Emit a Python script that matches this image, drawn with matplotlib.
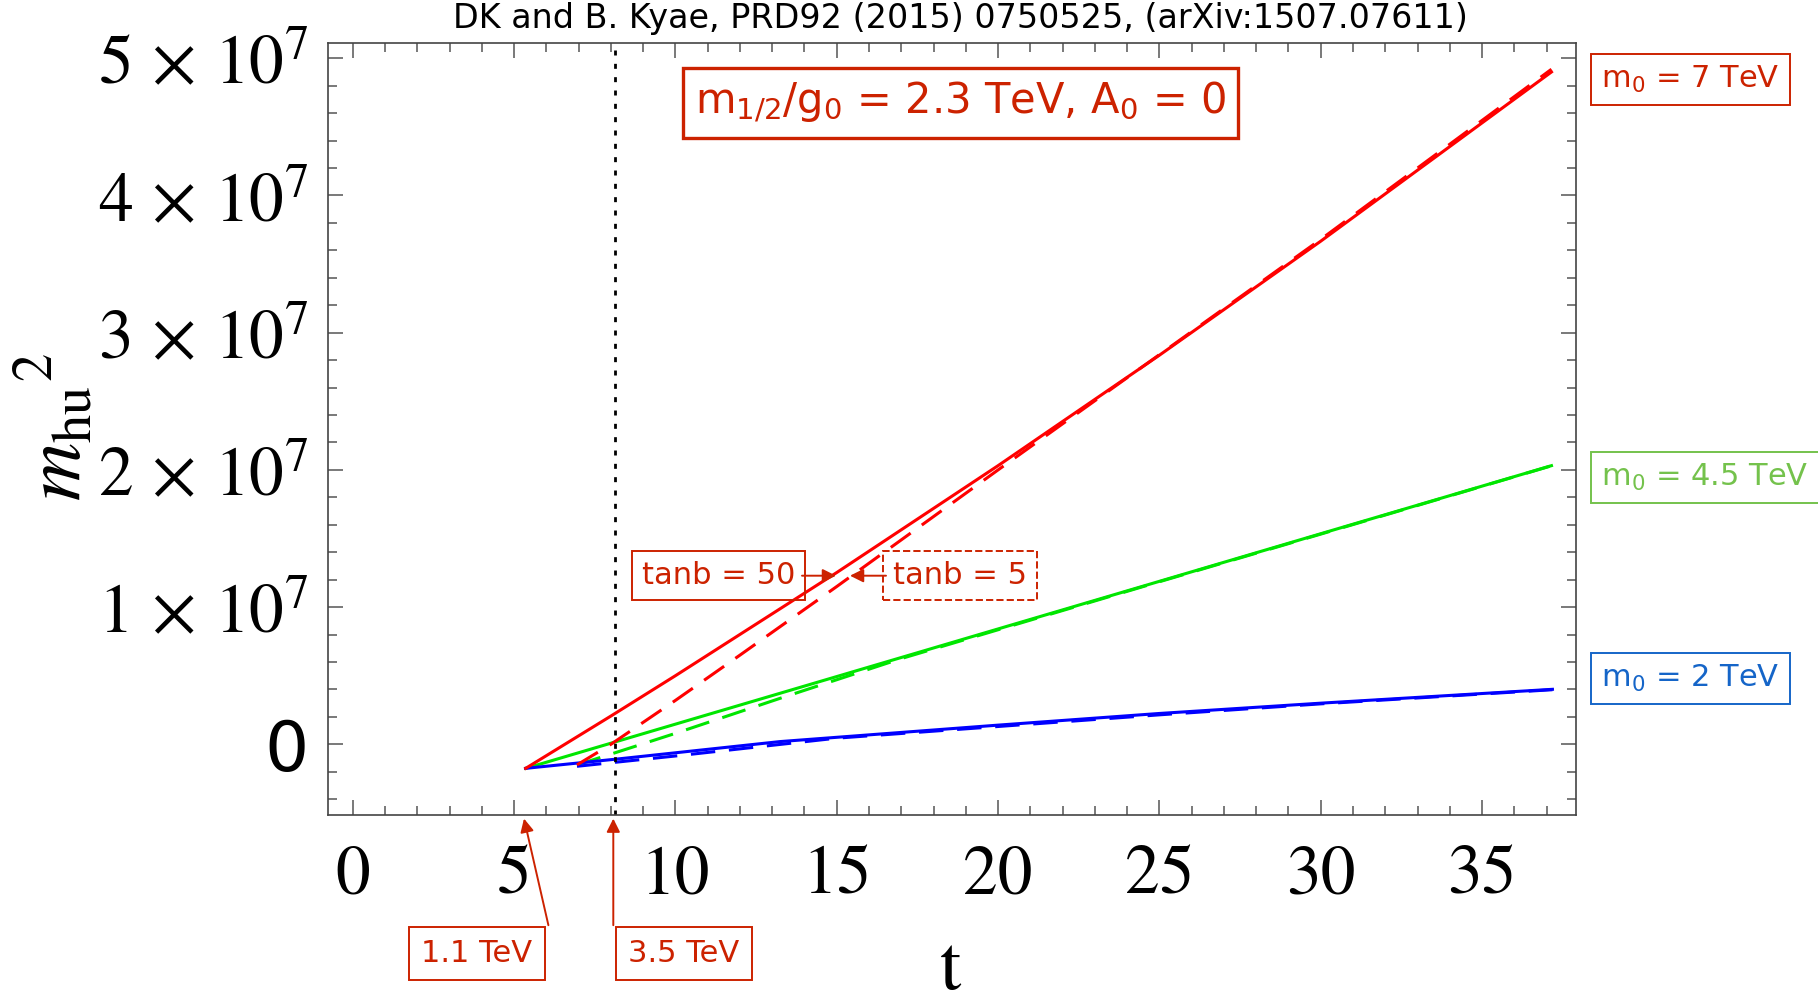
import numpy as np
import matplotlib.pyplot as plt
from matplotlib.ticker import MultipleLocator

W, H = 1818, 1008
SCALE = 1e7  # y values below are in units of 10^7

# m0 = 7 TeV
red_solid_t = [5.36, 8.0, 10.0, 15.0, 20.0, 25.0, 30.0, 37.15]
red_solid_y = [-0.175, 0.206, 0.500, 1.252, 2.031, 2.836, 3.667, 4.90]
red_dash_t = [6.95, 8.0, 10.0, 12.0, 15.0, 20.0, 25.0, 30.0, 37.15]
red_dash_y = [-0.150, 0.000, 0.320, 0.650, 1.150, 2.000, 2.840, 3.680, 4.92]

# m0 = 4.5 TeV
green_solid_t = [5.36, 10.0, 15.0, 20.0, 25.0, 30.0, 37.15]
green_solid_y = [-0.175, 0.147, 0.494, 0.841, 1.188, 1.535, 2.031]
green_dash_t = [6.95, 8.23, 10.0, 13.24, 17.0, 20.0, 25.0, 30.0, 37.15]
green_dash_y = [-0.150, -0.054, 0.080, 0.335, 0.625, 0.835, 1.185, 1.532, 2.030]

# m0 = 2 TeV
blue_solid_t = [5.36, 8.28, 13.24, 20.0, 25.0, 30.0, 37.18]
blue_solid_y = [-0.175, -0.105, 0.020, 0.140, 0.225, 0.300, 0.401]
blue_dash_t = [6.95, 10.0, 15.0, 20.0, 25.0, 30.0, 37.18]
blue_dash_y = [-0.160, -0.085, 0.045, 0.130, 0.215, 0.295, 0.398]

t_cut = 8.13

xticks = [0, 5, 10, 15, 20, 25, 30, 35]
yticks = [0, 1, 2, 3, 4, 5]
ytick_labels = ['0'] + [r'$%d\,\times\,10^{7}$' % v for v in yticks[1:]]

title = 'DK and B. Kyae, PRD92 (2015) 0750525, (arXiv:1507.07611)'

ANN = '#cc2200'
GREEN_LBL = '#74c24c'
BLUE_LBL = '#1565c8'

plt.rcParams['mathtext.fontset'] = 'stix'

fig = plt.figure(figsize=(W / 100, H / 100), dpi=100)
ax = fig.add_axes([327.7 / W, 1 - 815 / H, (1576 - 327.7) / W, (815 - 43.3) / H])


def px(x, y):
    """pixel position (from top-left) -> figure fraction"""
    return (x / W, 1 - y / H)


lw = 2.2
dash = (0, (8, 4.5))
ax.plot(green_solid_t, np.array(green_solid_y) * SCALE, color='#00e600', lw=lw)
ax.plot(green_dash_t, np.array(green_dash_y) * SCALE, color='#00e600', lw=lw, ls=dash)
ax.plot(blue_solid_t, np.array(blue_solid_y) * SCALE, color='#0000ff', lw=lw)
ax.plot(blue_dash_t, np.array(blue_dash_y) * SCALE, color='#0000ff', lw=lw, ls=dash)
ax.plot(red_solid_t, np.array(red_solid_y) * SCALE, color='#ff0000', lw=lw)
ax.plot(red_dash_t, np.array(red_dash_y) * SCALE, color='#ff0000', lw=lw, ls=dash)
ax.axvline(t_cut, color='black', lw=2.0, ls=(0, (1.8, 3)))

ax.set_xlim(-0.775, 37.91)
ax.set_ylim(-0.515 * SCALE, 5.109 * SCALE)

ax.set_xticks(xticks)
ax.set_xticklabels([str(v) for v in xticks], fontfamily='STIXGeneral', fontsize=50)
ax.xaxis.set_minor_locator(MultipleLocator(1))
ax.set_yticks([v * SCALE for v in yticks])
ax.set_yticklabels(ytick_labels, fontsize=50)
ax.yaxis.set_minor_locator(MultipleLocator(0.2 * SCALE))

ax.tick_params(which='both', direction='in', top=True, right=True, color='#555555', width=1.1)
ax.tick_params(which='major', length=10.8)
ax.tick_params(which='minor', length=6.5)
ax.tick_params(axis='x', pad=22)
ax.tick_params(axis='y', pad=14)
for s in ax.spines.values():
    s.set_color('#444444')
    s.set_linewidth(1.2)

# axis labels
fig.text(*px(56, 427), r'$m_{\mathrm{hu}}{}^{2}$', fontsize=58, rotation=90,
         ha='center', va='center')
fig.text(*px(951, 1006), 't', fontfamily='STIXGeneral', fontsize=55,
         ha='center', va='bottom')

fig.text(*px(960, 28), title, fontsize=24, ha='center', va='baseline')

# annotation boxes
box_kw = dict(family='DejaVu Sans', math_fontfamily='dejavusans')
fig.text(*px(960.5, 102.6), r'm$_{1/2}$/g$_0$ = 2.3 TeV, A$_0$ = 0', fontsize=30,
         color=ANN, ha='center', va='center',
         bbox=dict(boxstyle='square,pad=0.3', fc='white', ec=ANN, lw=2.4), **box_kw)

fig.text(*px(1601, 79.4), r'm$_0$ = 7 TeV', fontsize=22, color=ANN, ha='left', va='center',
         bbox=dict(boxstyle='square,pad=0.33', fc='white', ec=ANN, lw=1.4), **box_kw)
fig.text(*px(1601, 477.7), r'm$_0$ = 4.5 TeV', fontsize=22, color=GREEN_LBL, ha='left',
         va='center', bbox=dict(boxstyle='square,pad=0.33', fc='white', ec=GREEN_LBL, lw=1.4),
         **box_kw)
fig.text(*px(1601, 678.8), r'm$_0$ = 2 TeV', fontsize=22, color=BLUE_LBL, ha='left',
         va='center', bbox=dict(boxstyle='square,pad=0.33', fc='white', ec=BLUE_LBL, lw=1.4),
         **box_kw)

fig.text(*px(718.3, 575.7), 'tanb = 50', fontsize=22, color=ANN, ha='center', va='center',
         bbox=dict(boxstyle='square,pad=0.33', fc='none', ec=ANN, lw=1.4), **box_kw)
fig.text(*px(960, 575.7), 'tanb = 5', fontsize=22, color=ANN, ha='center', va='center',
         bbox=dict(boxstyle='square,pad=0.33', fc='none', ec=ANN, lw=1.4, ls='--'), **box_kw)

fig.text(*px(477, 953.6), '1.1 TeV', fontsize=22, color=ANN, ha='center', va='center',
         bbox=dict(boxstyle='square,pad=0.4', fc='white', ec=ANN, lw=1.4), **box_kw)
fig.text(*px(684, 953.6), '3.5 TeV', fontsize=22, color=ANN, ha='center', va='center',
         bbox=dict(boxstyle='square,pad=0.4', fc='white', ec=ANN, lw=1.4), **box_kw)


def arrow(start, end):
    ax.annotate('', xy=px(*end), xycoords='figure fraction',
                xytext=px(*start), textcoords='figure fraction',
                arrowprops=dict(arrowstyle='-|>', color=ANN, lw=1.4,
                                mutation_scale=20, shrinkA=0, shrinkB=0))


arrow((802, 575.7), (836, 575.7))
arrow((886, 575.7), (850, 575.7))
arrow((548.4, 925.2), (524, 818.6))
arrow((613.3, 925.2), (613.3, 818.6))

fig.savefig('out.png', dpi=100, facecolor='white')
